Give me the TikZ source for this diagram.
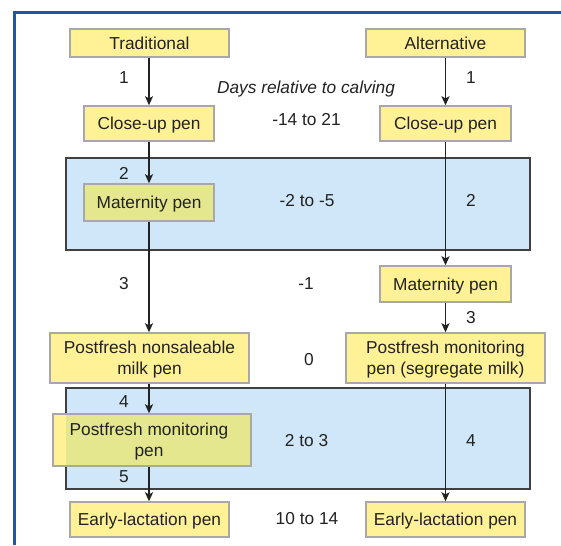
\documentclass[tikz,border=0pt]{standalone}
\usepackage{fontspec}
\setmainfont{Liberation Sans}
\usetikzlibrary{arrows.meta}
\definecolor{boxyellow}{HTML}{FFF196}
\definecolor{boxgreen}{HTML}{E5E78E}
\definecolor{zoneblue}{HTML}{CFE7F8}
\definecolor{framebl}{HTML}{1F58A0}
\definecolor{txt}{HTML}{222222}
\definecolor{boxline}{HTML}{A8A8A8}
\definecolor{zoneline}{HTML}{404040}
\begin{document}
\begin{tikzpicture}[x=1pt,y=-1pt,
  font=\fontsize{17.3}{21}\selectfont, text=txt,
  pen/.style={draw=boxline, line width=1.4pt, fill=boxyellow, inner sep=0pt, align=center, text depth=0pt},
  penin/.style={pen, fill=boxgreen},
  zone/.style={draw=zoneline, line width=1.4pt, fill=zoneblue, inner sep=0pt},
  flow/.style={draw=txt, line width=1.3pt, -{Stealth[length=9pt,width=8pt,inset=2pt]}},
  lab/.style={inner sep=0pt, anchor=base}]
\useasboundingbox (0,0) rectangle (561,545);
\fill[white] (0,0) rectangle (561,545);
\draw[framebl, line width=3pt] (14.5,545) -- (14.5,13) -- (561,13);

% zones
\node[zone, minimum width=464, minimum height=92] (zoneA) at (298,204) {};
\node[zone, minimum width=464, minimum height=101] (zoneB) at (298,438.5) {};

% boxes
\node[pen, minimum width=159, minimum height=28] (trad) at (149.5,43) {Traditional};
\node[pen, minimum width=159, minimum height=28] (alt) at (445.5,43) {Alternative};
\node[pen, minimum width=130, minimum height=35] (closeL) at (149,123.5) {Close-up pen};
\node[pen, minimum width=131, minimum height=35] (closeR) at (445.5,123.5) {Close-up pen};
\node[penin, minimum width=130, minimum height=37] (matL) at (149,202.5) {Maternity pen};
\node[pen, minimum width=131, minimum height=36] (matR) at (445.5,284) {Maternity pen};
\node[pen, minimum width=199, minimum height=50] (nonsL) at (149.5,358) {Postfresh nonsaleable\\milk pen};
\node[pen, minimum width=199, minimum height=50] (monR) at (445.5,358) {Postfresh monitoring\\pen (segregate milk)};
\fill[boxyellow] (53,414) rectangle (251,466);
\begin{scope}
  \clip (66,388) rectangle (530,489);
  \fill[boxgreen] (53,414) rectangle (251,466);
\end{scope}
\node[pen, fill=none, minimum width=198, minimum height=52] (monL) at (152,440) {};
\node[inner sep=0pt, align=center, text depth=0pt] (monLtext) at (149,440) {Postfresh monitoring\\pen};
\node[pen, minimum width=159, minimum height=35] (earlyL) at (149.5,519.5) {Early-lactation pen};
\node[pen, minimum width=159, minimum height=35] (earlyR) at (445.5,519.5) {Early-lactation pen};

% connectors
\draw[flow] (closeL.north |- trad.south) -- (closeL.north);
\draw[flow] (closeL.south) -- (matL.north);
\draw[flow] (matL.south) -- (matL.south |- nonsL.north);
\draw[flow] (matL.south |- nonsL.south) -- (matL.south |- monL.north);
\draw[flow] (matL.south |- monL.south) -- (matL.south |- earlyL.north);
\draw[flow] (alt.south) -- (closeR.north);
\draw[flow] (closeR.south) -- (matR.north);
\draw[flow] (matR.south) -- (monR.north);
\draw[flow] (monR.south) -- (earlyR.north);

% labels
\node[lab, font=\fontsize{17.3}{21}\selectfont\itshape] (days) at (306,93.5) {Days relative to calving};
\node[lab] (l1) at (124,84) {1};
\node[lab] (l2) at (124,180) {2};
\node[lab] (l3) at (124,289) {3};
\node[lab] (l4) at (124,407) {4};
\node[lab] (l5) at (124,482) {5};
\node[lab] (r1) at (471,84) {1};
\node[lab] (r2) at (471,206) {2};
\node[lab] (r3) at (471,323) {3};
\node[lab] (r4) at (471,446) {4};
\node[lab] (d1) at (306.5,126) {-14 to 21};
\node[lab] (d2) at (307,206) {-2 to -5};
\node[lab] (d3) at (306,289) {-1};
\node[lab] (d4) at (309,365) {0};
\node[lab] (d5) at (306.5,446) {2 to 3};
\node[lab] (d6) at (307,524) {10 to 14};
\end{tikzpicture}
\end{document}
